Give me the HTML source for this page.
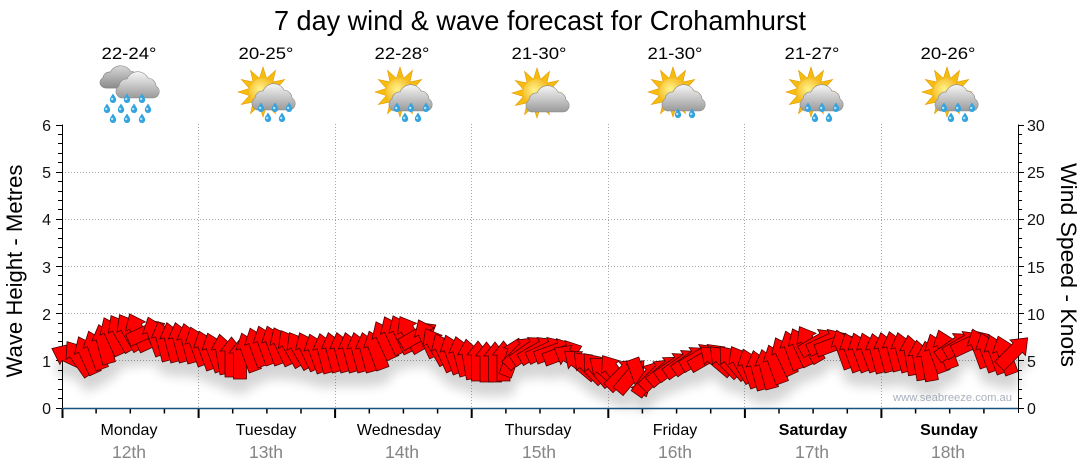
<!DOCTYPE html>
<html><head><meta charset="utf-8"><style>body{margin:0;background:#fff}svg{display:block}</style></head>
<body>
<svg width="1080" height="475" viewBox="0 0 1080 475" xmlns="http://www.w3.org/2000/svg" font-family="Liberation Sans, sans-serif">
<defs>
<linearGradient id="cg" x1="0" y1="0" x2="0" y2="1"><stop offset="0" stop-color="#f6f6f6"/><stop offset="1" stop-color="#9a9a9a"/></linearGradient>
<linearGradient id="cg2" x1="0" y1="0" x2="0" y2="1"><stop offset="0" stop-color="#d8d8d8"/><stop offset="1" stop-color="#8a8a8a"/></linearGradient>
<radialGradient id="sg" cx="0.4" cy="0.4" r="0.65"><stop offset="0" stop-color="#fff48c"/><stop offset="1" stop-color="#f2a800"/></radialGradient>
<g id="sun"><polygon points="25,0 13.52,3.62 21.65,12.5 9.9,9.9 12.5,21.65 3.62,13.52 0,25 -3.62,13.52 -12.5,21.65 -9.9,9.9 -21.65,12.5 -13.52,3.62 -25,0 -13.52,-3.62 -21.65,-12.5 -9.9,-9.9 -12.5,-21.65 -3.62,-13.52 0,-25 3.62,-13.52 12.5,-21.65 9.9,-9.9 21.65,-12.5 13.52,-3.62" fill="#f6bc10" stroke="#e39a00" stroke-width="0.6"/><circle r="14" fill="url(#sg)"/></g>
<path id="cloud" d="M6,26 A6.5,6.5 0 0 1 2,14 A7.5,7.5 0 0 1 10,7 A11.5,11.5 0 0 1 31,6 A8.5,8.5 0 0 1 39,14 A6.5,6.5 0 0 1 37,26 Z" fill="url(#cg)" stroke="#8a8a8a" stroke-width="0.6"/>
<path id="cloud2" d="M6,26 A6.5,6.5 0 0 1 2,14 A7.5,7.5 0 0 1 10,7 A11.5,11.5 0 0 1 31,6 A8.5,8.5 0 0 1 39,14 A6.5,6.5 0 0 1 37,26 Z" fill="url(#cg2)" stroke="#7a7a7a" stroke-width="0.6"/>
<g id="drop"><path d="M0,-4.5 C1.5,-2 3.2,0 3.2,1.8 A3.2,3.2 0 0 1 -3.2,1.8 C-3.2,0 -1.5,-2 0,-4.5Z" fill="#35a3de"/><circle cx="-0.8" cy="1" r="1.2" fill="#b8e6fb"/></g>
<path id="ar" d="M0,-20 L11,-6 L6.5,-6 L6.5,20 L-6.5,20 L-6.5,-6 L-11,-6 Z" fill="#f00" stroke="#4a0000" stroke-width="0.8"/>
<filter id="sh" x="-5%" y="-60%" width="110%" height="250%">
<feGaussianBlur in="SourceAlpha" stdDeviation="5.5"/>
<feOffset dx="2" dy="14"/>
<feComponentTransfer><feFuncA type="linear" slope="0.17"/></feComponentTransfer>
<feMerge><feMergeNode/><feMergeNode in="SourceGraphic"/></feMerge>
</filter>
</defs>

<text x="540" y="30" font-size="28" text-anchor="middle" textLength="532" lengthAdjust="spacingAndGlyphs" fill="#000">7 day wind &amp; wave forecast for Crohamhurst</text>

<g font-size="17" text-anchor="middle" fill="#000">
<text x="129" y="59" textLength="55" lengthAdjust="spacingAndGlyphs">22-24°</text>
<text x="266" y="59" textLength="55" lengthAdjust="spacingAndGlyphs">20-25°</text>
<text x="402" y="59" textLength="55" lengthAdjust="spacingAndGlyphs">22-28°</text>
<text x="539" y="59" textLength="55" lengthAdjust="spacingAndGlyphs">21-30°</text>
<text x="675" y="59" textLength="55" lengthAdjust="spacingAndGlyphs">21-30°</text>
<text x="812" y="59" textLength="55" lengthAdjust="spacingAndGlyphs">21-27°</text>
<text x="948" y="59" textLength="55" lengthAdjust="spacingAndGlyphs">20-26°</text>
</g>

<use href="#cloud2" transform="translate(101,66) scale(0.95,0.85)"/>
<use href="#cloud" transform="translate(117,72) scale(1.0,1.0)"/>
<use href="#drop" x="113" y="98"/><use href="#drop" x="127" y="98"/><use href="#drop" x="142" y="98"/>
<use href="#drop" x="107" y="108"/><use href="#drop" x="121" y="108"/><use href="#drop" x="134" y="108"/><use href="#drop" x="148" y="108"/>
<use href="#drop" x="113" y="118"/><use href="#drop" x="127" y="118"/><use href="#drop" x="142" y="118"/>

<use href="#sun" x="263" y="92"/><use href="#cloud" x="253" y="84"/>
<use href="#drop" x="261" y="107"/><use href="#drop" x="275" y="107"/><use href="#drop" x="289" y="107"/><use href="#drop" x="268" y="117"/><use href="#drop" x="282" y="117"/>

<use href="#sun" x="400" y="92"/><use href="#cloud" x="390" y="85"/>
<use href="#drop" x="397" y="107"/><use href="#drop" x="411" y="107"/><use href="#drop" x="426" y="107"/><use href="#drop" x="405" y="117"/><use href="#drop" x="418" y="117"/>

<use href="#sun" x="537" y="93"/><use href="#cloud" x="527" y="86"/>

<use href="#sun" x="673" y="92"/><use href="#cloud" x="663" y="85"/>
<use href="#drop" x="678" y="113"/><use href="#drop" x="692" y="113"/>

<use href="#sun" x="811" y="92"/><use href="#cloud" x="801" y="85"/>
<use href="#drop" x="808" y="107"/><use href="#drop" x="822" y="107"/><use href="#drop" x="836" y="107"/><use href="#drop" x="815" y="117"/><use href="#drop" x="829" y="117"/>

<use href="#sun" x="947" y="92"/><use href="#cloud" x="936" y="85"/>
<use href="#drop" x="944" y="107"/><use href="#drop" x="958" y="107"/><use href="#drop" x="972" y="107"/><use href="#drop" x="951" y="117"/><use href="#drop" x="965" y="117"/>

<g stroke="#a8a8a8" stroke-width="1" stroke-dasharray="1,2" fill="none">
<path d="M62,360.5H1018M62,313.5H1018M62,266.5H1018M62,219.5H1018M62,172.5H1018"/>
<path d="M198.5,124V408M335.5,124V408M471.5,124V408M608.5,124V408M744.5,124V408M881.5,124V408"/>
</g>

<g stroke="#000" stroke-width="1" fill="none">
<path d="M62.5,124.5V408.5M1018.5,124.5V413"/>
<path d="M56,408.5H62M58,398.5H62M58,389.5H62M58,379.5H62M58,370.5H62M56,360.5H62M58,351.5H62M58,341.5H62M58,332.5H62M58,323.5H62M56,313.5H62M58,304.5H62M58,294.5H62M58,285.5H62M58,275.5H62M56,266.5H62M58,257.5H62M58,247.5H62M58,238.5H62M58,228.5H62M56,219.5H62M58,209.5H62M58,200.5H62M58,191.5H62M58,181.5H62M56,172.5H62M58,162.5H62M58,153.5H62M58,143.5H62M58,134.5H62M56,125.5H62"/>
<path d="M1018,408.5H1024M1018,398.5H1022M1018,389.5H1022M1018,379.5H1022M1018,370.5H1022M1018,360.5H1024M1018,351.5H1022M1018,341.5H1022M1018,332.5H1022M1018,323.5H1022M1018,313.5H1024M1018,304.5H1022M1018,294.5H1022M1018,285.5H1022M1018,275.5H1022M1018,266.5H1024M1018,257.5H1022M1018,247.5H1022M1018,238.5H1022M1018,228.5H1022M1018,219.5H1024M1018,209.5H1022M1018,200.5H1022M1018,191.5H1022M1018,181.5H1022M1018,172.5H1024M1018,162.5H1022M1018,153.5H1022M1018,143.5H1022M1018,134.5H1022M1018,125.5H1024"/>
</g>
<g stroke="#000" stroke-width="2" fill="none">
<path d="M62.5,408V418M198.6,408V418M335.1,408V418M471.7,408V418M608.3,408V418M744.9,408V418M881.4,408V418"/>
</g>
<g stroke="#000" stroke-width="1.5" fill="none">
<path d="M96.1,408V413.5M130.3,408V413.5M164.4,408V413.5M232.7,408V413.5M266.9,408V413.5M301,408V413.5M369.3,408V413.5M403.4,408V413.5M437.6,408V413.5M505.9,408V413.5M540,408V413.5M574.1,408V413.5M642.4,408V413.5M676.6,408V413.5M710.7,408V413.5M779,408V413.5M813.1,408V413.5M847.3,408V413.5M915.6,408V413.5M949.7,408V413.5M983.9,408V413.5"/>
</g>

<text x="893" y="401" font-size="11" fill="#a9b1bd" textLength="119" lengthAdjust="spacingAndGlyphs">www.seabreeze.com.au</text>

<g filter="url(#sh)">
<use href="#ar" transform="translate(70,357) rotate(-65)"/>
<use href="#ar" transform="translate(78.5,358) rotate(-35)"/>
<use href="#ar" transform="translate(87,355) rotate(-25)"/>
<use href="#ar" transform="translate(95.5,350) rotate(-20)"/>
<use href="#ar" transform="translate(104,344) rotate(-15)"/>
<use href="#ar" transform="translate(112.5,336) rotate(-25)"/>
<use href="#ar" transform="translate(121,333) rotate(-30)"/>
<use href="#ar" transform="translate(129.5,332) rotate(-30)"/>
<use href="#ar" transform="translate(138,332) rotate(-25)"/>
<use href="#ar" transform="translate(146.5,332) rotate(65)"/>
<use href="#ar" transform="translate(155,336) rotate(-20)"/>
<use href="#ar" transform="translate(163.5,341) rotate(-15)"/>
<use href="#ar" transform="translate(172,342) rotate(-15)"/>
<use href="#ar" transform="translate(180.5,342) rotate(-15)"/>
<use href="#ar" transform="translate(189,343) rotate(-15)"/>
<use href="#ar" transform="translate(197.5,346) rotate(-20)"/>
<use href="#ar" transform="translate(206,350) rotate(-20)"/>
<use href="#ar" transform="translate(214.5,352) rotate(-20)"/>
<use href="#ar" transform="translate(223,354) rotate(-10)"/>
<use href="#ar" transform="translate(231.5,357) rotate(0)"/>
<use href="#ar" transform="translate(240,359) rotate(0)"/>
<use href="#ar" transform="translate(248.5,352) rotate(-20)"/>
<use href="#ar" transform="translate(257,347) rotate(-20)"/>
<use href="#ar" transform="translate(265.5,345) rotate(-20)"/>
<use href="#ar" transform="translate(274,345) rotate(-20)"/>
<use href="#ar" transform="translate(282.5,346) rotate(-25)"/>
<use href="#ar" transform="translate(291,348) rotate(-30)"/>
<use href="#ar" transform="translate(299.5,350) rotate(-30)"/>
<use href="#ar" transform="translate(308,351) rotate(-25)"/>
<use href="#ar" transform="translate(316.5,353) rotate(-20)"/>
<use href="#ar" transform="translate(325,353) rotate(-15)"/>
<use href="#ar" transform="translate(333.5,352) rotate(-15)"/>
<use href="#ar" transform="translate(342,352) rotate(-15)"/>
<use href="#ar" transform="translate(350.5,352) rotate(-15)"/>
<use href="#ar" transform="translate(359,352) rotate(-15)"/>
<use href="#ar" transform="translate(367.5,352) rotate(-15)"/>
<use href="#ar" transform="translate(376,350) rotate(-20)"/>
<use href="#ar" transform="translate(384.5,340) rotate(-25)"/>
<use href="#ar" transform="translate(393,335) rotate(-25)"/>
<use href="#ar" transform="translate(401.5,334) rotate(-25)"/>
<use href="#ar" transform="translate(410,334) rotate(-30)"/>
<use href="#ar" transform="translate(418.5,335) rotate(60)"/>
<use href="#ar" transform="translate(427,338) rotate(-25)"/>
<use href="#ar" transform="translate(435.5,346) rotate(-30)"/>
<use href="#ar" transform="translate(444,352) rotate(-25)"/>
<use href="#ar" transform="translate(452.5,354) rotate(-20)"/>
<use href="#ar" transform="translate(461,356) rotate(-15)"/>
<use href="#ar" transform="translate(469.5,359) rotate(-10)"/>
<use href="#ar" transform="translate(478,361) rotate(0)"/>
<use href="#ar" transform="translate(486.5,362) rotate(0)"/>
<use href="#ar" transform="translate(495,362) rotate(0)"/>
<use href="#ar" transform="translate(503.5,361) rotate(0)"/>
<use href="#ar" transform="translate(512,357) rotate(20)"/>
<use href="#ar" transform="translate(520.5,352) rotate(45)"/>
<use href="#ar" transform="translate(529,350) rotate(55)"/>
<use href="#ar" transform="translate(537.5,350) rotate(60)"/>
<use href="#ar" transform="translate(546,350) rotate(65)"/>
<use href="#ar" transform="translate(554.5,351) rotate(70)"/>
<use href="#ar" transform="translate(563,353) rotate(70)"/>
<use href="#ar" transform="translate(571.5,358) rotate(-60)"/>
<use href="#ar" transform="translate(580,364) rotate(-50)"/>
<use href="#ar" transform="translate(588.5,367) rotate(-45)"/>
<use href="#ar" transform="translate(597,369) rotate(-40)"/>
<use href="#ar" transform="translate(605.5,371) rotate(-50)"/>
<use href="#ar" transform="translate(614,372) rotate(-35)"/>
<use href="#ar" transform="translate(622.5,374) rotate(45)"/>
<use href="#ar" transform="translate(631,376) rotate(40)"/>
<use href="#ar" transform="translate(639.5,378) rotate(160)"/>
<use href="#ar" transform="translate(648,378) rotate(35)"/>
<use href="#ar" transform="translate(656.5,374) rotate(45)"/>
<use href="#ar" transform="translate(665,370) rotate(50)"/>
<use href="#ar" transform="translate(673.5,366) rotate(55)"/>
<use href="#ar" transform="translate(682,363) rotate(55)"/>
<use href="#ar" transform="translate(690.5,360) rotate(55)"/>
<use href="#ar" transform="translate(699,357) rotate(60)"/>
<use href="#ar" transform="translate(707.5,357) rotate(60)"/>
<use href="#ar" transform="translate(716,360) rotate(-50)"/>
<use href="#ar" transform="translate(724.5,361) rotate(-45)"/>
<use href="#ar" transform="translate(733,362) rotate(-40)"/>
<use href="#ar" transform="translate(741.5,364) rotate(-30)"/>
<use href="#ar" transform="translate(750,368) rotate(-20)"/>
<use href="#ar" transform="translate(758.5,370) rotate(-15)"/>
<use href="#ar" transform="translate(767,369) rotate(-15)"/>
<use href="#ar" transform="translate(775.5,364) rotate(-20)"/>
<use href="#ar" transform="translate(784,356) rotate(-25)"/>
<use href="#ar" transform="translate(792.5,350) rotate(-20)"/>
<use href="#ar" transform="translate(801,347) rotate(-25)"/>
<use href="#ar" transform="translate(809.5,344) rotate(-30)"/>
<use href="#ar" transform="translate(818,342) rotate(60)"/>
<use href="#ar" transform="translate(826.5,342) rotate(65)"/>
<use href="#ar" transform="translate(835,344) rotate(70)"/>
<use href="#ar" transform="translate(843.5,349) rotate(-20)"/>
<use href="#ar" transform="translate(852,352) rotate(-20)"/>
<use href="#ar" transform="translate(860.5,352) rotate(-20)"/>
<use href="#ar" transform="translate(869,352) rotate(-20)"/>
<use href="#ar" transform="translate(877.5,353) rotate(-15)"/>
<use href="#ar" transform="translate(886,352) rotate(-15)"/>
<use href="#ar" transform="translate(894.5,351) rotate(-15)"/>
<use href="#ar" transform="translate(903,352) rotate(-15)"/>
<use href="#ar" transform="translate(911.5,355) rotate(-10)"/>
<use href="#ar" transform="translate(920,360) rotate(-10)"/>
<use href="#ar" transform="translate(928.5,361) rotate(-10)"/>
<use href="#ar" transform="translate(937,353) rotate(-20)"/>
<use href="#ar" transform="translate(945.5,349) rotate(-20)"/>
<use href="#ar" transform="translate(954,346) rotate(55)"/>
<use href="#ar" transform="translate(962.5,344) rotate(60)"/>
<use href="#ar" transform="translate(971,343) rotate(65)"/>
<use href="#ar" transform="translate(979.5,348) rotate(-20)"/>
<use href="#ar" transform="translate(988,352) rotate(-20)"/>
<use href="#ar" transform="translate(996.5,354) rotate(-20)"/>
<use href="#ar" transform="translate(1005,355) rotate(-20)"/>
<use href="#ar" transform="translate(1013.5,352) rotate(45)"/>
</g>

<path d="M62,408.5H1018" stroke="#17507c" stroke-width="1.6"/>

<g font-size="16" fill="#111" text-anchor="end">
<text x="51" y="414">0</text><text x="51" y="367">1</text><text x="51" y="320">2</text><text x="51" y="273">3</text><text x="51" y="225">4</text><text x="51" y="178">5</text><text x="51" y="131">6</text>
</g>
<g font-size="16" fill="#111">
<text x="1027" y="414">0</text><text x="1027" y="367">5</text><text x="1027" y="320">10</text><text x="1027" y="273">15</text><text x="1027" y="225">20</text><text x="1027" y="178">25</text><text x="1027" y="131">30</text>
</g>

<text transform="translate(22,271) rotate(-90)" text-anchor="middle" font-size="22" fill="#000" textLength="213" lengthAdjust="spacingAndGlyphs">Wave Height - Metres</text>
<text transform="translate(1061,265) rotate(90)" text-anchor="middle" font-size="22" fill="#000" textLength="204" lengthAdjust="spacingAndGlyphs">Wind Speed - Knots</text>

<g font-size="16" fill="#000" text-anchor="middle">
<text x="129" y="435">Monday</text>
<text x="266" y="435">Tuesday</text>
<text x="399" y="435">Wednesday</text>
<text x="538" y="435">Thursday</text>
<text x="675" y="435">Friday</text>
<text x="813" y="435" font-weight="bold">Saturday</text>
<text x="949" y="435" font-weight="bold">Sunday</text>
</g>
<g font-size="17.5" fill="#858585" text-anchor="middle">
<text x="129" y="458">12th</text>
<text x="266" y="458">13th</text>
<text x="402" y="458">14th</text>
<text x="539" y="458">15th</text>
<text x="675" y="458">16th</text>
<text x="812" y="458">17th</text>
<text x="948" y="458">18th</text>
</g>
</svg>
</body></html>
